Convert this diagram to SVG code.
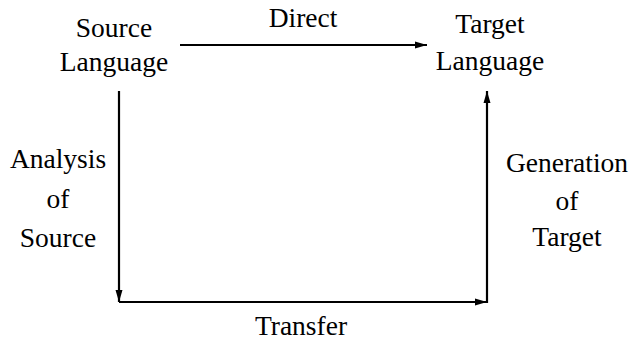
<svg xmlns="http://www.w3.org/2000/svg" width="631" height="341" viewBox="0 0 631 341">
<style>
text{font-family:"Liberation Serif","Times New Roman",serif;font-size:27.5px;fill:#000;text-anchor:middle}
.c{stroke:#000;stroke-width:2.2;fill:none}
</style>
<defs>
<marker id="ah" markerWidth="12" markerHeight="8" refX="12" refY="4" orient="auto" markerUnits="userSpaceOnUse">
<path d="M0,0.5 L12,4 L0,7.5 Z" fill="#000"/>
</marker>
</defs>
<rect width="631" height="341" fill="#fff"/>
<g id="source">
<text x="114" y="37">Source</text>
<text x="114" y="71">Language</text>
</g>
<g id="target">
<text x="490" y="33">Target</text>
<text x="490" y="70">Language</text>
</g>
<g id="connectors">
<path class="c" d="M180,45 H427" marker-end="url(#ah)"/>
<path class="c" d="M119,91 V302" marker-end="url(#ah)"/>
<path class="c" d="M119,302 H487" marker-end="url(#ah)"/>
<path class="c" d="M487,303 V91" marker-end="url(#ah)"/>
</g>
<g id="labels">
<text x="303" y="27">Direct</text>
<text x="58" y="168">Analysis</text>
<text x="58" y="208">of</text>
<text x="58" y="247">Source</text>
<text x="567" y="172">Generation</text>
<text x="567" y="210">of</text>
<text x="567" y="246">Target</text>
<text x="301" y="335">Transfer</text>
</g>
</svg>
